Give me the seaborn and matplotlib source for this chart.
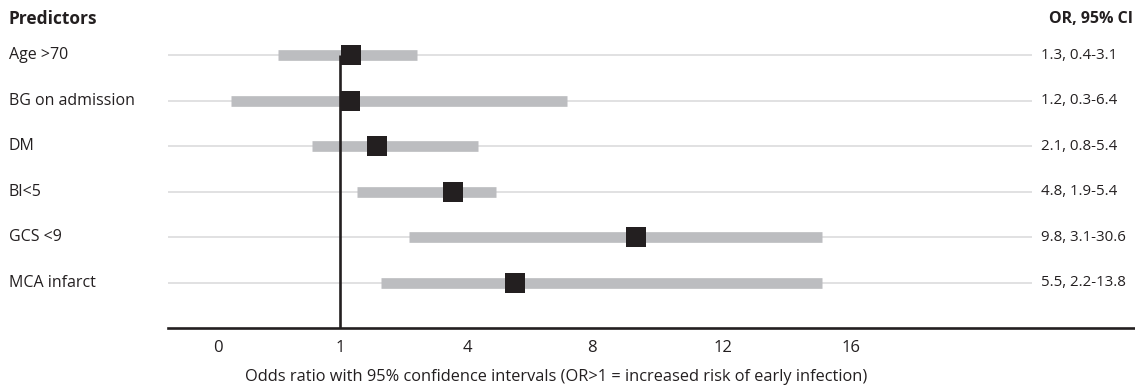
import numpy as np
import pandas as pd
import seaborn as sns
import matplotlib.pyplot as plt
from matplotlib.transforms import blended_transform_factory

# values as drawn in the figure (positions of marks), plus printed labels
predictors = ["Age >70", "BG on admission", "DM", "BI<5", "GCS <9", "MCA infarct"]
or_labels = ["1.3, 0.4-3.1", "1.2, 0.3-6.4", "2.1, 0.8-5.4",
             "4.8, 1.9-5.4", "9.8, 3.1-30.6", "5.5, 2.2-13.8"]
odds_ratio = [1.25, 1.24, 1.87, 3.66, 9.33, 5.55]
ci_low = [0.49, 0.11, 0.77, 1.40, 2.63, 1.97]
ci_high = [2.82, 7.20, 4.35, 4.93, 15.09, 15.09]
tick_values = [0, 1, 4, 8, 12, 16]

df = pd.DataFrame({"predictor": predictors, "OR": odds_ratio,
                   "lo": ci_low, "hi": ci_high, "row": range(len(predictors))})

sns.set_theme(style="white")
plt.rcParams["font.family"] = ["Open Sans", "DejaVu Sans"]

# the original axis is not linear: each labelled tick gets its own segment
seg_vals = [-2, 0, 1, 4, 8, 12, 16, 40]
seg_pos = [-26, 218, 340, 467, 592, 723, 851, 1619]


def forward(x):
    return np.interp(x, seg_vals, seg_pos)


def inverse(x):
    return np.interp(x, seg_pos, seg_vals)


fig = plt.figure(figsize=(11.35, 3.85), dpi=100)
ax = fig.add_axes([168 / 1135, 57 / 385, 967 / 1135, 298 / 385])
ax.set_xscale("function", functions=(forward, inverse))
ax.set_xlim(-0.41, 24.875)
ax.set_ylim(6, -0.55)

ink = "#231f20"

# thin guide lines per row
ax.hlines(df["row"], -0.41, 21.66, color="#dcdcdd", lw=1.2, zorder=1)
# confidence interval bars
ax.hlines(df["row"], df["lo"], df["hi"], color="#bcbdc0", lw=7.7, zorder=2)
# reference line at OR = 1
ax.vlines(1, 0, 6, color=ink, lw=1.9, zorder=3)
# point estimates
sns.scatterplot(data=df, x="OR", y="row", marker="s", s=228, color=ink,
                edgecolor=ink, linewidth=0, zorder=4, ax=ax, legend=False)

for side in ["top", "left", "right"]:
    ax.spines[side].set_visible(False)
ax.spines["bottom"].set_color(ink)
ax.spines["bottom"].set_linewidth(1.9)

ax.set_yticks([])
ax.set_xticks(tick_values)
ax.set_xticklabels([str(t) for t in tick_values], fontsize=12, color=ink)
ax.tick_params(axis="x", length=0, pad=9)
ax.set_xlabel("")
ax.set_ylabel("")

trans = blended_transform_factory(fig.transFigure, ax.transData)
for i, (name, lab) in enumerate(zip(predictors, or_labels)):
    ax.text(9 / 1135, i, name, transform=trans, ha="left", va="center",
            fontsize=11.5, color=ink)
    ax.text(1041 / 1135, i, lab, transform=trans, ha="left", va="center",
            fontsize=10.8, color=ink)

fig.text(9 / 1135, 1 - 19 / 385, "Predictors", ha="left", va="center",
         fontsize=12.5, fontweight="bold", color=ink)
fig.text(1133 / 1135, 1 - 19 / 385, "OR, 95% CI", ha="right", va="center",
         fontsize=11.5, fontweight="bold", color=ink)
fig.text(556 / 1135, 1 - 377 / 385,
         "Odds ratio with 95% confidence intervals (OR>1 = increased risk of early infection)",
         ha="center", va="center", fontsize=11.8, color=ink)

fig.savefig("out.png", dpi=100)
